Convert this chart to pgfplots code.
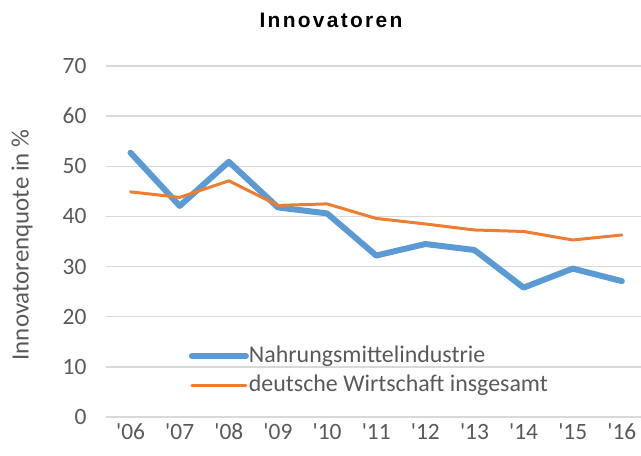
\documentclass[border=0pt]{standalone}
\usepackage{fontspec}
\setmainfont{Carlito}
\newfontfamily\titlefont[LetterSpace=11]{Liberation Sans}
\usepackage{pgfplots}
\pgfplotsset{compat=1.18}
\definecolor{nblue}{HTML}{5B9BD5}
\definecolor{norange}{HTML}{ED7D31}
\definecolor{tgrey}{HTML}{595959}
\definecolor{ggrey}{HTML}{D9D9D9}
\pgfplotstableread{
x nahrung wirtschaft
0 52.7 44.9
1 42.1 43.8
2 50.9 47.1
3 41.8 42.2
4 40.6 42.5
5 32.2 39.6
6 34.5 38.5
7 33.3 37.3
8 25.8 37.0
9 29.6 35.3
10 27.1 36.3
}\datatable
\begin{document}
\begin{tikzpicture}
\begin{axis}[
  scale only axis, width=535bp, height=351bp,
  xmin=-0.5, xmax=10.39, ymin=0, ymax=70,
  xtick={0,...,10},
  xticklabels={\textquotesingle06,\textquotesingle07,\textquotesingle08,\textquotesingle09,\textquotesingle10,\textquotesingle11,\textquotesingle12,\textquotesingle13,\textquotesingle14,\textquotesingle15,\textquotesingle16},
  ytick={0,10,...,70},
  axis line style={draw=none}, tick style={draw=none},
  ymajorgrids, grid style={ggrey, line width=1.3bp},
  /pgf/number format/assume math mode=true,
  ticklabel style={font=\fontsize{23.5}{28}\selectfont, text=tgrey},
  xticklabel style={anchor=north, yshift=-3bp},
  yticklabel style={anchor=east, xshift=-16bp},
  ylabel={Innovatorenquote in \%},
  ylabel style={at={(axis description cs:-0.157,0.49)}, anchor=center, font=\fontsize{25}{30}\selectfont, text=tgrey},
  title={Innovatoren},
  title style={at={(axis description cs:0.4206,1)}, anchor=center, yshift=40bp, font=\titlefont\bfseries\fontsize{21}{25}\selectfont},
  legend style={at={(axis description cs:0.155,0.205)}, anchor=north west, draw=none, fill=none, inner sep=0pt, outer sep=0pt,
    font=\fontsize{24}{28}\selectfont, text=tgrey, row sep=7bp,
    nodes={inner sep=0pt, text height=17bp, text depth=5bp}},
  legend cell align=left,
  legend image code/.code={\draw[#1] (0bp,0bp) -- (54bp,0bp);},
  legend style={/tikz/every even column/.append style={column sep=5bp}},
  clip=false,
]
\addplot[nblue, line width=6bp, line cap=round, line join=round] table[x=x, y=nahrung] {\datatable};
\addlegendentry{Nahrungsmittelindustrie}
\addplot[norange, line width=3bp, line cap=round, line join=round] table[x=x, y=wirtschaft] {\datatable};
\addlegendentry{deutsche Wirtschaft insgesamt}
\end{axis}
\pgfresetboundingbox
\path (-106bp,-39bp) rectangle (535bp,417bp);
\end{tikzpicture}
\end{document}
